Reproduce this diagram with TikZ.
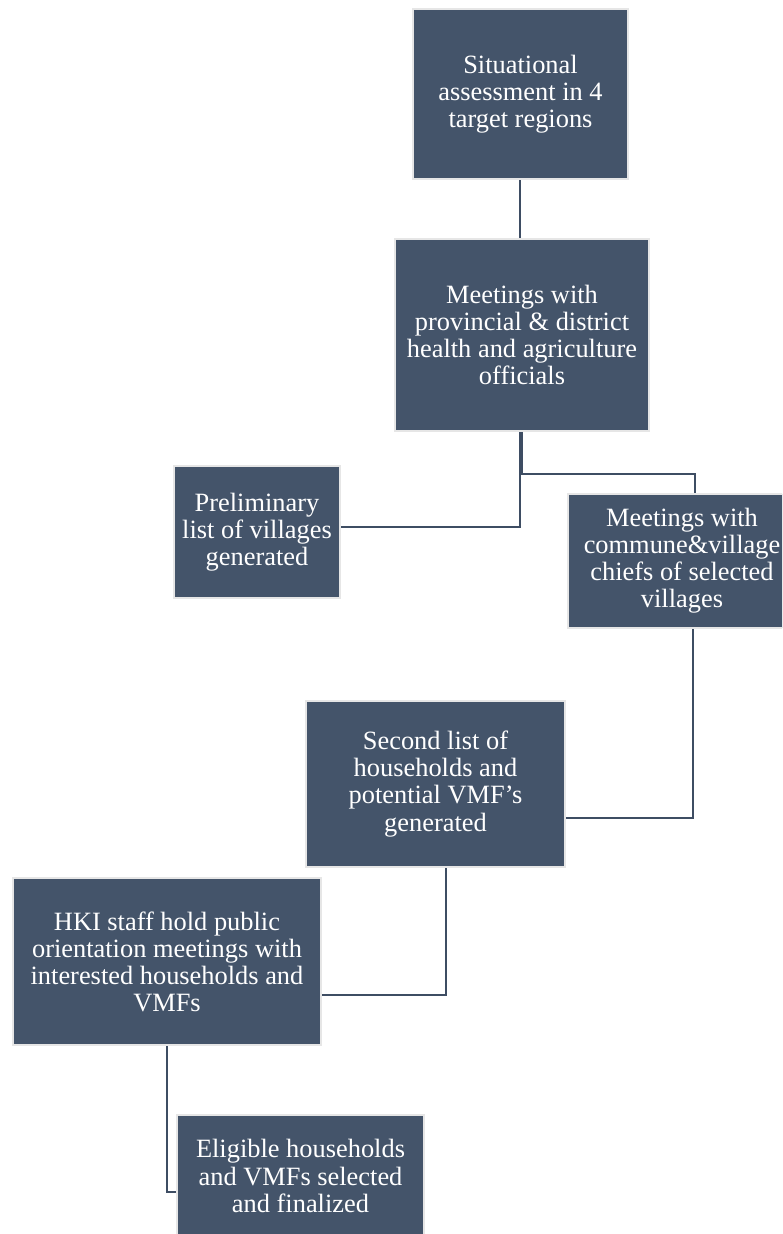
\documentclass[tikz,border=0pt]{standalone}
\usepackage{fontspec}
\setmainfont{Liberation Serif}
\usetikzlibrary{calc}
\definecolor{boxfill}{HTML}{44546A}
\definecolor{boxedge}{HTML}{E6E6E6}
\definecolor{linkcol}{HTML}{3E4D63}
\tikzset{
  stepbox/.style 2 args={draw=boxedge, line width=1.5pt, fill=boxfill, text=white,
    align=center, inner sep=0pt,
    minimum width={(#1-2)*0.75pt}, minimum height={(#2-2)*0.75pt},
    font=\fontsize{19.8}{20.3}\selectfont},
  link/.style={draw=linkcol, line width=1.6pt}
}
\begin{document}
\begin{tikzpicture}[x=0.75pt,y=-0.75pt]
\useasboundingbox (0,0) rectangle (782,1234);
\clip (0,0) rectangle (782,1234);
\node[stepbox={217}{172}] (b1) at (520.5,94) {Situational\\assessment in 4\\target regions};
\node[stepbox={256}{194}] (b2) at (522,335) {Meetings with\\provincial \& district\\health and agriculture\\officials};
\node[stepbox={168}{134}] (b3) at (257,532) {Preliminary\\list of villages\\generated};
\node[stepbox={230}{136}] (b4) at (682,561) {Meetings with\\commune\&village\\chiefs of selected\\villages};
\node[stepbox={261}{168}] (b5) at (435.5,784) {Second list of\\households and\\potential VMF's\\generated};
\node[stepbox={310}{169}] (b6) at (167,961.5) {HKI staff hold public\\orientation meetings with\\interested households and\\VMFs};
\node[stepbox={249}{124}] (b7) at (300.5,1176) {Eligible households\\and VMFs selected\\and finalized};

\draw[link] ($(b1.south)+(-0.5,0)$) -- ($(b1.south|-b2.north)+(-0.5,0)$);
\draw[link] ($(b2.south)+(-2,0)$) |- ($(b3.east)+(0,-5)$);
\draw[link] ($(b2.south)+(0,0)$) -- ($(b2.south)+(0,42)$) -| ($(b4.north)+(13,0)$);
\draw[link] ($(b4.south)+(11,0)$) |- ($(b5.east)+(0,34)$);
\draw[link] ($(b5.south)+(10.5,0)$) |- ($(b6.east)+(0,33.5)$);
\draw[link] (b6.south) |- ($(b7.west)+(0,16)$);
\end{tikzpicture}
\end{document}
